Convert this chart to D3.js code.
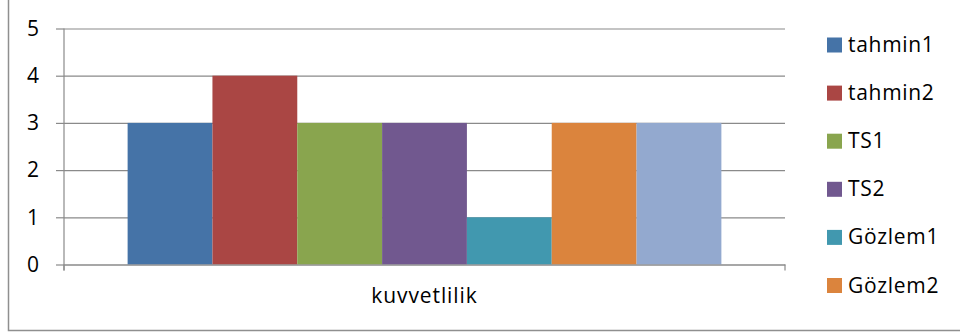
<!DOCTYPE html>
<html>
<head>
<meta charset="utf-8">
<script src="https://cdn.jsdelivr.net/npm/d3@7"></script>
<style>
  html, body { margin: 0; padding: 0; background: #fff; }
  svg { display: block; font-family: "Open Sans", "Noto Sans", sans-serif; }
</style>
</head>
<body>
<svg id="chart" width="960" height="332"></svg>
<script>
// Clustered column chart: one category, seven series
const categories = ["kuvvetlilik"];
const seriesNames = ["tahmin1", "tahmin2", "TS1", "TS2", "Gözlem1", "Gözlem2", "Gözlem3"];
const seriesValues = [3, 4, 3, 3, 1, 3, 3];
const seriesColors = ["#4573A7", "#AA4644", "#89A54E", "#71588F", "#4198AF", "#DB843D", "#93A9CF"];
const yTicks = [0, 1, 2, 3, 4, 5];
// the legend box only has room for the first six entries
const legendCount = 6;

const svg = d3.select("#chart");

// outer chart frame (runs past the top and right edges)
svg.append("rect")
  .attr("x", 8.5).attr("y", -10)
  .attr("width", 1000).attr("height", 340.5)
  .attr("fill", "#fff")
  .attr("stroke", "#8f8f8f").attr("stroke-width", 1.5);

const plot = { left: 64, right: 785, top: 28.5, bottom: 264.5 };

const y = d3.scaleLinear().domain([0, 5]).range([plot.bottom, plot.top]);
const x0 = d3.scaleBand().domain(categories).range([plot.left, plot.right]).padding(0);
const x1 = d3.scaleBand().domain(seriesNames).range([0, x0.bandwidth()])
  .paddingInner(0).paddingOuter(0.75);

// horizontal gridlines with outside tick marks
const yAxis = d3.axisLeft(y).tickValues(yTicks).tickSize(8).tickPadding(17)
  .tickFormat(d3.format("d"));
const gy = svg.append("g").attr("transform", `translate(${plot.left},0)`).call(yAxis);
gy.select(".domain").remove();
gy.selectAll(".tick line").attr("stroke", "#8a8a8a").attr("stroke-width", 1.2);
gy.selectAll(".tick text")
  .attr("fill", "#000").attr("font-size", 21)
  .attr("font-family", "'Open Sans', sans-serif");
gy.selectAll(".tick").append("line")
  .attr("x1", 0).attr("x2", plot.right - plot.left)
  .attr("stroke", "#8a8a8a").attr("stroke-width", 1.2);

// bars
svg.append("g").selectAll("g")
  .data(categories)
  .join("g")
  .attr("transform", d => `translate(${x0(d)},0)`)
  .selectAll("rect")
  .data(() => seriesNames.map((name, i) => ({ name, value: seriesValues[i], color: seriesColors[i] })))
  .join("rect")
  .attr("x", d => x1(d.name))
  .attr("y", d => y(d.value))
  .attr("width", x1.bandwidth())
  .attr("height", d => y(0) - y(d.value))
  .attr("fill", d => d.color);

// vertical value axis line
svg.append("line")
  .attr("x1", plot.left).attr("x2", plot.left)
  .attr("y1", plot.top).attr("y2", plot.bottom + 6)
  .attr("stroke", "#8a8a8a").attr("stroke-width", 1.2);

// category axis with boundary tick marks
const xAxis = d3.axisBottom(x0).tickSize(0).tickPadding(24);
const gx = svg.append("g").attr("transform", `translate(0,${plot.bottom})`).call(xAxis);
gx.select(".domain").attr("stroke", "#8a8a8a").attr("stroke-width", 1.2);
gx.selectAll(".tick text")
  .attr("fill", "#000").attr("font-size", 21).attr("letter-spacing", 0.9)
  .attr("font-family", "'Open Sans', sans-serif");
gx.selectAll(".boundary")
  .data([plot.left, plot.right])
  .join("line")
  .attr("class", "boundary")
  .attr("x1", d => d).attr("x2", d => d)
  .attr("y1", 0).attr("y2", 6)
  .attr("stroke", "#8a8a8a").attr("stroke-width", 1.2);

// legend
const legendItems = seriesNames.slice(0, legendCount).map((name, i) => ({ name, color: seriesColors[i] }));
const legendY = d3.scalePoint().domain(legendItems.map(d => d.name)).range([45, 285.5]);
const lg = svg.append("g").selectAll("g")
  .data(legendItems)
  .join("g")
  .attr("transform", d => `translate(827,${legendY(d.name)})`);
lg.append("rect")
  .attr("x", 0).attr("y", -7.5)
  .attr("width", 15).attr("height", 15)
  .attr("fill", d => d.color);
lg.append("text")
  .attr("x", 21).attr("y", 7)
  .attr("font-size", 21).attr("letter-spacing", 0.7)
  .attr("fill", "#000")
  .text(d => d.name);
</script>
</body>
</html>
